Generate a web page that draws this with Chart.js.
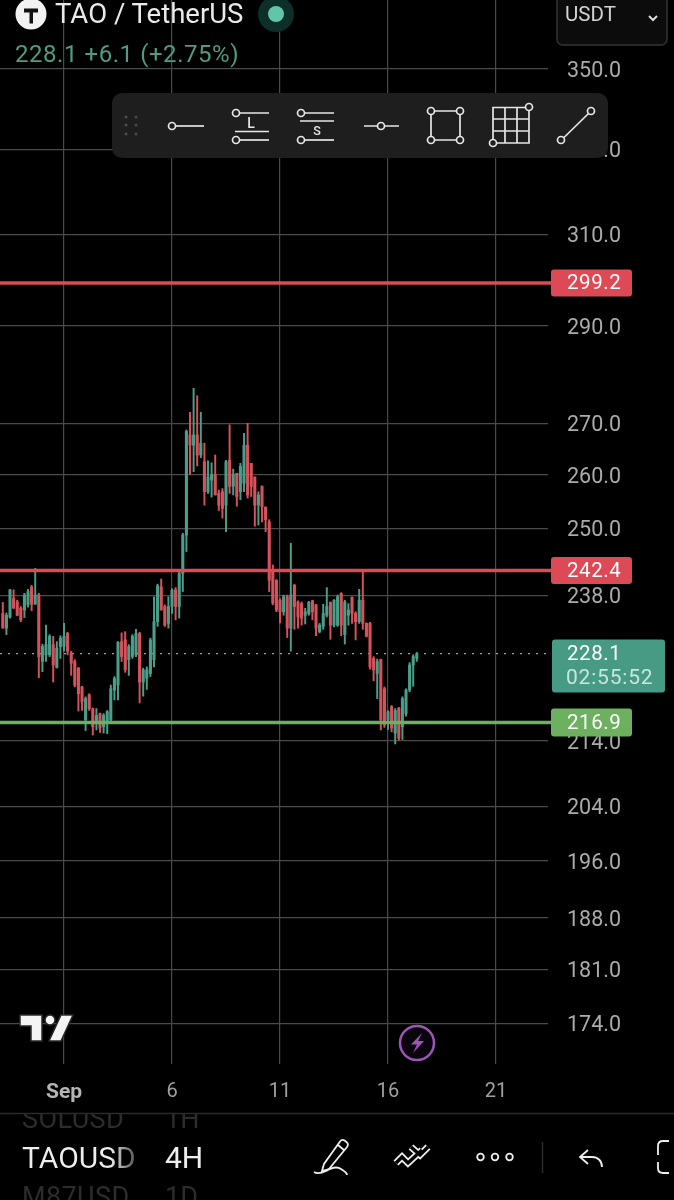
<!DOCTYPE html>
<html><head><meta charset="utf-8">
<script src="https://cdn.jsdelivr.net/npm/chart.js@4"></script>
<style>
html,body{margin:0;padding:0;background:#000;width:674px;height:1200px;overflow:hidden;font-family:Roboto,sans-serif}
#wrap{position:relative;width:674px;height:1200px;overflow:hidden}
canvas{display:block;position:absolute;left:0;top:0}
.t{position:absolute;white-space:nowrap;line-height:1}
svg{position:absolute;left:0;top:0;overflow:visible}
</style></head><body>
<div id="wrap">
<canvas id="c" width="674" height="1200"></canvas>
<svg width="674" height="1200" viewBox="0 0 674 1200" fill="none">
  <circle cx="31" cy="14" r="15.5" fill="#f2f2f2"/>
  <path d="M24 8.5h14v4h-5v11h-3.5v-11H24z" fill="#111"/>
  <circle cx="276" cy="14" r="18" fill="#0e2e29"/>
  <circle cx="276" cy="14" r="8" fill="#62c4aa"/>
  <rect x="557" y="-12" width="110" height="57" rx="6" fill="#0c0c0c" stroke="#333" stroke-width="1.5"/>
  <path d="M649 16l4 4 4-4" stroke="#ddd" stroke-width="2"/>
  <rect x="112" y="93" width="496" height="65" rx="10" fill="#1e1e1e"/>
  <g fill="#4a4a4a"><circle cx="126" cy="117" r="1.6"/><circle cx="136" cy="117" r="1.6"/><circle cx="126" cy="125" r="1.6"/><circle cx="136" cy="125" r="1.6"/><circle cx="126" cy="134" r="1.6"/><circle cx="136" cy="134" r="1.6"/></g>
  <g stroke="#e6e6e6" stroke-width="1.7">
    <circle cx="172" cy="126" r="3.5"/><path d="M176 126h28"/>
    <circle cx="236" cy="113" r="3.5"/><path d="M240 113h29M235 131.500h34"/><circle cx="236" cy="140" r="3.500"/><path d="M240 140h29"/>
    <circle cx="301" cy="113" r="3.5"/><path d="M305 113h29M300 121h34"/><circle cx="301" cy="140" r="3.500"/><path d="M305 140h29"/>
    <path d="M364 126h13M385 126h14"/><circle cx="381" cy="126" r="3.500"/>
    <path d="M435 111h21M431 115v21M460 115v21M435 140h21"/>
    <circle cx="431" cy="111" r="3.500"/><circle cx="460" cy="111" r="3.500"/><circle cx="431" cy="140" r="3.500"/><circle cx="460" cy="140" r="3.500"/>
    <path d="M493 139V107.500h32M529 111v32h-32M493 119h36M493 131h36M505 107.500v36M517 107.500v36"/>
    <circle cx="529" cy="107" r="3.500"/><circle cx="493" cy="143" r="3.500"/>
    <path d="M564 137.500l24.500-24"/><circle cx="561" cy="140" r="3.500"/><circle cx="591" cy="111" r="3.500"/>
  </g>
  <g fill="#f4f4f4" stroke="#2a2a2a" stroke-width="1.500">
    <path d="M20 1015h22v26H31v-15H20z"/>
    <circle cx="50" cy="1020" r="5"/>
    <path d="M61 1015h12l-12 26H49z"/>
  </g>
  <circle cx="417" cy="1043" r="17" fill="#0a050d" stroke="#9b55b5" stroke-width="2.500"/>
  <path d="M422 1033l-11 11.500h6l-4 8.500 11-12h-6z" fill="#9b55b5"/>
  <path d="M0 1113.500h674" stroke="#2b2b2b" stroke-width="1.500"/>
  <path d="M542.500 1142v31" stroke="#2a2a2a" stroke-width="1.500"/>
  <g stroke="#eee" stroke-width="1.800">
    <path d="M324 1164l-2 7 7-2 18-22c1.500-2 1-4-.5-5l-2-1.500c-1.500-1-3-.8-4.500 1zM338 1145l6.500 5.500"/>
    <path d="M314 1172c3 2 8 1 12-1 4-3 11-5 15-2 3 2 6 3 6 6"/>
    <circle cx="480.500" cy="1157" r="3.300"/><circle cx="495" cy="1157" r="3.300"/><circle cx="509.500" cy="1157" r="3.300"/>
    <path d="M588 1150l-8 7 8 7"/><path d="M580 1157h12c6 0 10 4 10 10"/>
    <path d="M669 1141h-6c-3 0-5 2-5 5v9M658 1162v6c0 3 2 5 5 5h6"/>
  </g>
  <g stroke-linejoin="miter" fill="none">
    <g stroke="#eee" stroke-width="7"><path d="M396 1163l6-6 6 6 14-13"/><path d="M411 1147l9 8 8-8"/></g>
    <g stroke="#000" stroke-width="3.400"><path d="M396 1163l6-6 6 6 14-13"/><path d="M411 1147l9 8 8-8"/></g>
  </g>
</svg>
<div class="t" style="left:55px;top:0px;font-size:27.500px;color:#eaeaea">TAO / TetherUS</div>
<div class="t" style="left:15px;top:42px;font-size:24px;color:#4f9b84;letter-spacing:.55px">228.1 +6.1 (+2.75%)</div>
<div class="t" style="left:565px;top:4px;font-size:20.500px;color:#d4d4d4">USDT</div>
<div class="t" style="left:242px;top:116px;font-size:14px;color:#e6e6e6;width:18px;text-align:center;font-weight:500">L</div>
<div class="t" style="left:308px;top:125px;font-size:12.500px;color:#e6e6e6;width:18px;text-align:center;font-weight:500">S</div>
<div style="position:absolute;left:0;top:1114px;width:674px;height:86px;overflow:hidden">
  <div class="t" style="left:22px;top:-8px;font-size:27px;color:#2c2c2c;letter-spacing:.4px">SOLUSD</div>
  <div class="t" style="left:165px;top:-8px;font-size:27px;color:#2c2c2c">1H</div>
  <div class="t" style="left:22px;top:29px;font-size:30px;color:transparent;background:linear-gradient(90deg,#eee 78%,#555 100%);-webkit-background-clip:text;background-clip:text;width:113px;overflow:hidden">TAOUSD</div>
  <div class="t" style="left:165px;top:29px;font-size:30px;color:#eee">4H</div>
  <div class="t" style="left:22px;top:70px;font-size:27px;color:#2c2c2c;letter-spacing:.4px">M87USD</div>
  <div class="t" style="left:165px;top:70px;font-size:27px;color:#2c2c2c">1D</div>
</div>
</div>
<script>
// 4H candles of TAO / TetherUS; index 0 is the candle opening on Sep 1
const firstCandleIndex = -17;
const opens = [234.9,232.4,234.3,237.5,236.9,235.8,235.5,236.4,239.5,236.5,238.1,226.8,227.9,227.9,229.6,225.8,229.3,229.3,231.5,228.2,226.8,225.7,222.6,217.3,221.3,219.1,216.7,218.3,216.2,216.7,217.3,222.1,222.9,230.1,230.4,227.1,227.6,227.9,231.5,223.4,224.0,224.8,227.1,233.5,239.5,236.1,233.2,236.1,239.0,236.1,241.9,248.8,267.7,265.7,267.7,263.8,262.5,256.8,259.0,260.0,256.5,256.8,254.3,262.8,257.8,260.3,256.8,258.4,265.7,262.2,259.6,254.3,257.8,253.9,251.2,242.5,240.7,237.2,235.2,237.8,232.4,239.8,236.9,236.6,234.6,234.9,237.1,236.4,231.8,232.7,234.6,236.8,232.9,232.9,238.4,231.3,234.6,237.7,234.9,233.5,237.2,233.2,233.2,227.3,224.8,227.1,222.3,217.3,219.4,215.2,219.1,216.2,218.3,222.1,226.2,227.3];
const highs = [236.8,235.0,239.1,239.0,237.2,236.1,238.4,239.1,239.8,242.8,238.4,229.7,232.9,231.3,231.0,230.1,231.1,233.2,231.7,228.5,227.1,225.8,222.7,221.0,221.5,219.2,219.1,218.4,218.3,218.8,222.9,224.3,230.1,231.6,231.8,229.6,231.3,232.2,231.7,225.7,225.9,230.7,237.8,240.0,240.9,236.4,237.8,239.2,239.4,242.2,249.1,268.7,272.2,277.0,275.5,272.2,266.1,262.7,262.3,263.8,257.1,257.4,262.8,269.7,261.1,260.3,262.2,268.0,270.0,262.2,259.6,256.8,257.9,254.0,251.6,243.4,240.8,237.5,238.1,238.1,247.3,240.0,237.1,236.9,235.8,237.0,237.2,236.5,233.2,236.5,239.4,236.9,237.3,238.1,238.5,237.2,236.6,237.8,235.2,239.1,242.2,233.3,233.4,227.6,227.2,227.2,222.6,218.8,219.6,219.1,219.3,221.0,222.3,226.6,227.9,228.3];
const lows = [232.4,231.3,234.1,235.8,234.5,233.5,234.2,236.0,235.4,236.5,224.1,225.1,226.8,227.6,223.4,225.7,227.3,228.5,227.9,224.5,222.6,218.7,218.8,215.6,218.8,214.9,215.7,215.3,215.2,215.1,217.0,220.5,220.5,226.8,225.0,224.5,227.3,227.6,220.0,221.1,222.2,224.3,225.9,232.7,235.5,232.7,232.4,234.9,233.8,234.1,238.7,245.8,260.1,260.6,261.7,263.3,254.3,256.5,255.8,256.2,253.3,251.9,249.4,256.5,256.2,254.1,255.3,256.8,255.6,255.9,250.4,250.6,251.2,249.4,238.7,236.4,235.2,233.3,234.6,230.8,228.5,232.2,232.4,232.9,233.1,234.6,233.8,231.1,231.6,232.2,234.3,230.5,232.6,232.7,231.1,229.7,232.9,233.2,230.4,233.2,232.2,230.9,225.5,223.6,220.7,215.7,216.1,215.8,215.4,213.5,214.1,214.2,217.9,221.8,222.7,226.8];
const closes = [232.4,234.6,239.0,235.8,234.6,233.8,238.1,238.7,236.5,238.1,227.6,229.3,229.6,231.0,226.2,229.0,230.7,231.0,228.5,226.5,222.9,221.5,220.2,220.7,219.1,216.2,218.0,216.0,218.0,218.6,222.3,224.0,230.0,227.6,225.4,229.3,231.0,231.5,223.4,225.4,225.4,230.4,233.5,239.7,235.5,232.9,236.1,238.9,236.1,241.9,248.8,268.4,265.7,267.7,263.8,266.1,256.8,259.6,260.0,256.2,254.3,253.7,262.5,257.8,260.0,255.9,261.6,265.7,256.2,257.8,254.3,256.2,254.0,251.6,240.7,236.7,235.5,235.2,237.8,232.4,238.1,236.1,234.3,234.1,235.2,236.8,235.2,232.4,232.9,234.9,236.1,232.9,237.2,237.8,232.9,236.9,235.5,234.9,233.5,237.2,233.2,231.0,225.9,225.4,226.8,217.3,216.5,218.6,216.0,218.8,214.4,220.7,222.1,226.2,227.6,228.1];

const priceTicks = [350,330,310,290,270,260,250,238,214,204,196,188,181,174];
const dateTickIndex = [0,30,60,90,120];
const dateTickLabels = ['Sep','6','11','16','21'];
const resistanceLevels = [299.2,242.4];
const supportLevel = 216.9;
const lastPrice = 228.1;
const countdown = '02:55:52';

const UP='#4a9f8a', DOWN='#d8525c', RED='#dd4a55', GREEN='#6cb060', TEAL='#479b85', GRID='#4a4a4a';
const FONT='Roboto, sans-serif';
const xMin=-17.78, xMax=134.44, yMin=168.9, yMax=368.1;

const idx = opens.map((_,i)=>i+firstCandleIndex);
const cols = opens.map((o,i)=>closes[i]>=o?UP:DOWN);
const span = (v,end) => [{x:xMin,y:v},{x:end,y:v}];
const levelLine = (v,c,w,o,d,end,clip)=>({type:'line',data:span(v,end),borderColor:c,borderWidth:w,pointRadius:0,order:o,borderDash:d||[],clip,parsing:{xAxisKey:'x',yAxisKey:'y'}});

const labelsPlugin={id:'labels',afterDraw(ch){
  const ctx=ch.ctx,y=ch.scales.y;
  const box=(v,c,x,w,h,up)=>{const p=y.getPixelForValue(v);const t=up?p-14:p-h/2;
    ctx.fillStyle=c;ctx.beginPath();ctx.roundRect(x,t,w,h,3);ctx.fill();return p;};
  ctx.save();ctx.textBaseline='middle';ctx.textAlign='left';
  ctx.font='20.5px '+FONT;ctx.letterSpacing='0.6px';
  resistanceLevels.forEach(v=>{const p=box(v,RED,551,81,27);ctx.fillStyle='#fff';ctx.fillText(v.toFixed(1),567,p+1);});
  let p=box(supportLevel,GREEN,551,81,28);ctx.fillStyle='#fff';ctx.fillText(supportLevel.toFixed(1),567,p+1);
  p=box(lastPrice,TEAL,552,113,53,true);ctx.fillStyle='#fff';ctx.fillText(lastPrice.toFixed(1),567,p+1);
  ctx.font='21px '+FONT;ctx.letterSpacing='0.8px';
  ctx.fillStyle='#c7e6dc';ctx.fillText(countdown,566,p+25);
  ctx.restore();
}};

new Chart(document.getElementById('c'),{
  type:'bar',
  data:{datasets:[
    levelLine(resistanceLevels[0],RED,3.5,0,null,xMax+1,4),
    levelLine(resistanceLevels[1],RED,3.5,0,null,xMax+1,4),
    levelLine(supportLevel,GREEN,3.5,0,null,xMax+1,4),
    {type:'bar',data:idx.map((x,i)=>({x,y:[Math.min(opens[i],closes[i]),Math.max(opens[i],closes[i])]})),backgroundColor:cols,barThickness:2.4,grouped:false,order:1,minBarLength:1},
    {type:'bar',data:idx.map((x,i)=>({x,y:[lows[i],highs[i]]})),backgroundColor:cols,barThickness:1.3,grouped:false,order:2},
    levelLine(lastPrice,'#a0a0a0',1.4,3,[2,6],xMax,0),
  ]},
  options:{
    responsive:false,animation:false,devicePixelRatio:1,
    layout:{padding:0},
    plugins:{legend:{display:false},tooltip:{enabled:false}},
    scales:{
      x:{type:'linear',position:'bottom',min:xMin,max:xMax,offset:false,
        grid:{color:GRID,lineWidth:1.2,drawTicks:false,offset:false},border:{display:false},
        afterBuildTicks(s){s.ticks=dateTickIndex.map(value=>({value}));},
        afterFit(s){s.height=136;s.paddingLeft=0;s.paddingRight=0;},
        ticks:{autoSkip:false,maxRotation:0,padding:16,color:c=>c.index===0?'#b5b5b5':'#a0a0a0',
          font:c=>({family:FONT,size:c.index===0?21:20,weight:c.index===0?'bold':'normal'}),
          callback:(v,i)=>dateTickLabels[i]}},
      y:{type:'logarithmic',position:'right',min:yMin,max:yMax,
        grid:{color:GRID,lineWidth:1.2,drawTicks:false},border:{display:false},
        afterBuildTicks(s){
          s.ticks=priceTicks.map(value=>({value}));
          if(!s._shifted){s._shifted=true;const orig=s.drawLabels;
            s.drawLabels=function(a){const c=this.ctx;c.save();c.translate(0,2.5);orig.call(this,a);c.restore();};}
        },
        afterFit(s){s.width=126;s.paddingTop=0;s.paddingBottom=0;},
        ticks:{autoSkip:false,padding:19,crossAlign:'near',color:'#ababab',
          font:{family:FONT,size:21.5},callback:v=>Number(v).toFixed(1)}}
    }
  },
  plugins:[labelsPlugin]
});
</script>
</body></html>
